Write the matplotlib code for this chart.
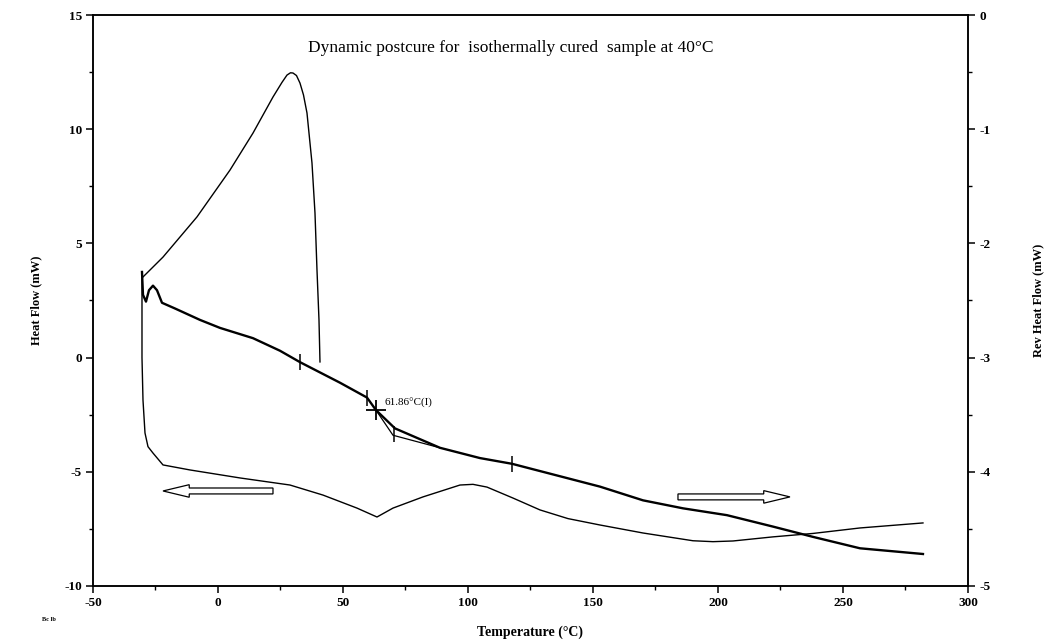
import numpy as np
import matplotlib
matplotlib.use("Agg")
import matplotlib.pyplot as plt
from matplotlib.patches import FancyArrow

plt.rcParams['font.family'] = ['Liberation Serif', 'DejaVu Serif']
plt.rcParams['axes.unicode_minus'] = False

# heat flow, first (cooling / isothermal) segment - left axis, mW
peak_t = [-30, -22, -8.4, 4.8, 14, 22, 25.6, 27.6, 29.0, 30, 31.4, 32.8, 34.2, 35.6, 37.6,
          38.8, 39.6, 40.4, 40.8]
peak_hf = [3.53, 4.40, 6.16, 8.21, 9.83, 11.41, 12.05, 12.37, 12.47, 12.46, 12.35, 12.02, 11.5,
           10.71, 8.52, 6.33, 3.84, 1.65, -0.19]

# heat flow, dynamic postcure - left axis, mW
hf_t = [-30.4, -30.4, -30.0, -29.2, -28.0, -26.0, -22.0, -11.2, 8.8, 28.8, 42.0, 55.6, 63.6,
        70.0, 82.0, 96.8, 102.0, 107.6, 118.0, 128.8, 140.0, 152.8, 170.0, 190.0, 198.0, 206.0,
        222.0, 238.0, 256.8, 282.0]
hf_val = [3.6, 0.0, -1.86, -3.3, -3.9, -4.18, -4.70, -4.92, -5.27, -5.58, -6.02, -6.59, -6.98,
          -6.59, -6.10, -5.58, -5.55, -5.67, -6.15, -6.67, -7.05, -7.33, -7.68, -8.02, -8.06, -8.03,
          -7.85, -7.70, -7.46, -7.24]

# reversing heat flow - right axis, mW
rev_t = [-30.4, -30.0, -28.8, -27.6, -26.0, -24.4, -22.4, -17.2, -7.2, 0.8, 14.0, 24.8, 32.8,
         48.8, 59.6, 63.2, 70.8, 88.8, 104.8, 117.6, 152.8, 170.0, 186.0, 203.6, 222.0, 238.0,
         256.8, 282.0]
rev_val = [-2.25, -2.45, -2.51, -2.41, -2.37, -2.41, -2.52, -2.57, -2.67, -2.74, -2.83, -2.94, -3.04,
           -3.22, -3.35, -3.46, -3.62, -3.79, -3.88, -3.93, -4.13, -4.25, -4.32, -4.38, -4.48, -4.57,
           -4.67, -4.72]

# analysis marks on the reversing curve
mark_t = [32.8, 59.6, 70.4, 117.6]
mark_val = [-3.04, -3.35, -3.67, -3.93]
tg_t = 63.2
tg_val = -3.46
tangent_t = [63.2, 70.0, 88.8]
tangent_val = [-3.46, -3.68, -3.79]

fig = plt.figure(figsize=(10.46, 6.44), dpi=100)
ax = fig.add_axes([0.0889, 0.0901, 0.8365, 0.8866])
ax2 = ax.twinx()

ax.plot(peak_t, peak_hf, color='black', lw=1.0)
ax.plot(hf_t, hf_val, color='black', lw=1.0)
ax2.plot(rev_t, rev_val, color='black', lw=1.7)
ax2.plot(tangent_t, tangent_val, color='black', lw=0.9)
ax2.plot(mark_t, mark_val, ls='none', marker='|', ms=11, mew=1.1, color='black')
ax2.plot([tg_t], [tg_val], ls='none', marker='+', ms=14, mew=1.3, color='black')
ax2.text(66.8, -3.40, '61.86°C(I)', fontsize=8, va='center', ha='left')

# hollow direction arrows
ax.add_patch(FancyArrow(22, -5.84, -44, 0, width=0.26, head_width=0.55, head_length=10.5,
                        length_includes_head=True, fc='white', ec='black', lw=0.9))
ax.add_patch(FancyArrow(184, -6.10, 44.8, 0, width=0.26, head_width=0.55, head_length=10.5,
                        length_includes_head=True, fc='white', ec='black', lw=0.9))

ax.set_xlim(-50, 300)
ax.set_ylim(-10, 15)
ax2.set_ylim(-5, 0)

ax.set_xticks([-50, 0, 50, 100, 150, 200, 250, 300])
ax.set_xticklabels(['-50', '0', '50', '100', '150', '200', '250', '300'])
ax.set_xticks(np.arange(-25, 300, 50), minor=True)
ax.set_yticks([-10, -5, 0, 5, 10, 15])
ax.set_yticklabels(['-10', '-5', '0', '5', '10', '15'])
ax.set_yticks(np.arange(-7.5, 15, 5), minor=True)
ax2.set_yticks([-5, -4, -3, -2, -1, 0])
ax2.set_yticklabels(['-5', '-4', '-3', '-2', '-1', '0'])
ax2.set_yticks(np.arange(-4.5, 0, 1), minor=True)

for a in (ax, ax2):
    a.tick_params(which='major', direction='out', length=5, width=1.1, pad=3,
                  labelsize=9.5)
    a.tick_params(which='minor', direction='out', length=3, width=1.0)
    for lab in a.get_xticklabels() + a.get_yticklabels():
        lab.set_fontweight('bold')
    for s in a.spines.values():
        s.set_linewidth(1.1)

ax.set_xlabel('Temperature (°C)', fontsize=10, fontweight='bold', labelpad=12)
ax.set_ylabel('Heat Flow (mW)', fontsize=9, fontweight='bold', labelpad=16)
ax2.set_ylabel('Rev Heat Flow (mW)', fontsize=9, fontweight='bold', rotation=90, labelpad=30)

ax.text(0.246, 0.942, 'Dynamic postcure for  isothermally cured  sample at 40°C',
        transform=ax.transAxes, fontsize=12.5, ha='left', va='center')
fig.text(0.04, 0.036, 'Bc lb', fontsize=4.5, fontweight='bold')

fig.savefig('out.png', dpi=100)
